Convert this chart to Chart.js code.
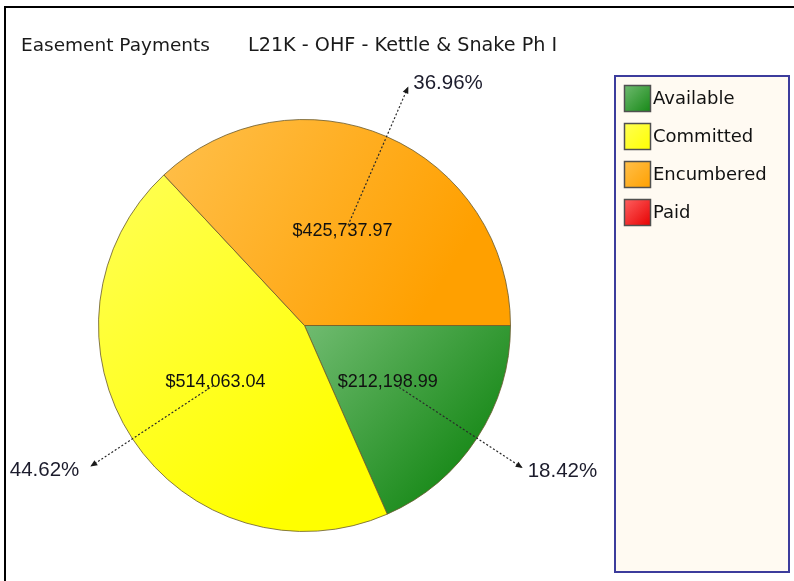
<!DOCTYPE html>
<html>
<head>
<meta charset="utf-8">
<script src="https://cdn.jsdelivr.net/npm/chart.js@4.4.1/dist/chart.umd.min.js"></script>
<style>
  html, body { margin:0; padding:0; background:#fff; }
  #wrap { position:relative; width:794px; height:581px; }
</style>
</head>
<body>
<div id="wrap"><canvas id="pie" width="794" height="581"></canvas></div>
<script>
const LABELS  = ['Available','Committed','Encumbered','Paid'];
const AMOUNTS = [212198.99, 514063.04, 425737.97, 0];
const LIGHT   = ['#70bb70','#ffff55','#ffc04c','#ff6060'];
const DARK    = ['#168816','#ffff00','#ffa000','#e60000'];
const TITLE_LEFT  = 'Easement Payments';
const TITLE_RIGHT = 'L21K - OHF - Kettle & Snake Ph I';

const TOTAL = AMOUNTS.reduce((a,b)=>a+b,0);
const money = v => '$' + v.toLocaleString('en-US',{minimumFractionDigits:2,maximumFractionDigits:2});
const pct = v => (v / TOTAL * 100).toFixed(2) + '%';

// gradient per slice, spread over the slice's bounding box
function sliceFill(ctx) {
  const i = ctx.dataIndex;
  const area = ctx.chart.chartArea;
  if (!area) return DARK[i];
  const cx = (area.left+area.right)/2, cy = (area.top+area.bottom)/2;
  const r = Math.min(area.right-area.left, area.bottom-area.top)/2;
  let a0 = 0;
  for (let k=0;k<i;k++) a0 += AMOUNTS[k]/TOTAL*Math.PI*2;
  const a1 = a0 + AMOUNTS[i]/TOTAL*Math.PI*2;
  const pts = [[cx,cy],[cx+r*Math.cos(a0),cy+r*Math.sin(a0)],[cx+r*Math.cos(a1),cy+r*Math.sin(a1)]];
  for (let q=0;q<=4;q++) { const a=q*Math.PI/2; if (a>a0 && a<a1) pts.push([cx+r*Math.cos(a),cy+r*Math.sin(a)]); }
  const xs = pts.map(p=>p[0]), ys = pts.map(p=>p[1]);
  const g = ctx.chart.ctx.createLinearGradient(Math.min(...xs),Math.min(...ys),Math.max(...xs),Math.max(...ys));
  g.addColorStop(0, LIGHT[i]); g.addColorStop(0.8, DARK[i]); g.addColorStop(1, DARK[i]);
  return g;
}

const pieNotes = {
  id: 'pieNotes',
  beforeDraw(chart) {
    const c = chart.ctx;
    c.save();
    // outer frame
    c.strokeStyle = '#000'; c.lineWidth = 2;
    c.strokeRect(5, 7, 900, 900);
    // title
    c.fillStyle = '#1a1a1a';
    c.textBaseline = 'alphabetic'; c.textAlign = 'left';
    c.font = '18.5px "DejaVu Sans"';
    c.fillText(TITLE_LEFT, 21, 51);
    c.font = '19.2px "DejaVu Sans"';
    c.fillText(TITLE_RIGHT, 248, 51);
    // legend
    c.fillStyle = '#fffaf2';
    c.fillRect(615, 76, 174, 496);
    c.strokeStyle = '#3c3c9c'; c.lineWidth = 2;
    c.strokeRect(615, 76, 174, 496);
    chart.data.labels.forEach((lb, i) => {
      const y = 85 + i*38;
      const g = c.createLinearGradient(624, y, 651, y+27);
      g.addColorStop(0, LIGHT[i]); g.addColorStop(1, DARK[i]);
      c.fillStyle = g;
      c.fillRect(624, y, 27, 27);
      c.strokeStyle = '#505050'; c.lineWidth = 1.5;
      c.strokeRect(624.5, y+0.5, 26, 26);
      c.fillStyle = '#111';
      c.font = '18px "DejaVu Sans"';
      c.textBaseline = 'middle';
      c.fillText(lb, 653, y+14);
    });
    c.restore();
  },
  afterDatasetsDraw(chart) {
    const c = chart.ctx;
    const meta = chart.getDatasetMeta(0);
    c.save();
    meta.data.forEach((arc, i) => {
      const v = chart.data.datasets[0].data[i];
      if (!v) return;
      const {x, y, startAngle, endAngle, outerRadius} = arc.getProps(['x','y','startAngle','endAngle','outerRadius'], true);
      const mid = (startAngle + endAngle) / 2;
      const dx = Math.cos(mid), dy = Math.sin(mid);
      const R = outerRadius;
      const k = dx >= 0 ? 1.265 : 1.245;
      // leader line
      const x0 = x + dx*R*0.53, y0 = y + dy*R*0.53;
      const x1 = x + dx*R*k, y1 = y + dy*R*k;
      c.strokeStyle = '#2a2a2a'; c.lineWidth = 1.2; c.setLineDash([2,2]);
      c.beginPath(); c.moveTo(x0,y0); c.lineTo(x1,y1); c.stroke();
      c.setLineDash([]);
      // arrow head
      const ah = 7, aw = 3;
      c.fillStyle = '#1a1a1a';
      c.beginPath();
      c.moveTo(x1, y1);
      c.lineTo(x1 - dx*ah - dy*aw, y1 - dy*ah + dx*aw);
      c.lineTo(x1 - dx*ah + dy*aw, y1 - dy*ah - dx*aw);
      c.closePath(); c.fill();
      // value label
      c.fillStyle = '#111';
      c.font = '18px "Liberation Sans"';
      c.textAlign = 'center'; c.textBaseline = 'middle';
      c.fillText(money(v), x + dx*R*0.5 - 3, y + dy*R*0.5);
      // percent label
      c.font = '20.5px "Liberation Sans"';
      c.fillStyle = '#1c1c2c';
      c.textAlign = dx >= 0 ? 'left' : 'right';
      c.fillText(pct(v), x1 + (dx >= 0 ? 5 : -11), y1 + dy*4.5 + 1);
    });
    c.restore();
  }
};

new Chart(document.getElementById('pie'), {
  type: 'pie',
  data: {
    labels: LABELS,
    datasets: [{
      data: AMOUNTS,
      backgroundColor: sliceFill,
      borderColor: 'rgba(105,90,45,0.8)',
      borderWidth: 1
    }]
  },
  options: {
    responsive: false,
    animation: false,
    rotation: 90,
    layout: { padding: { left: 98, right: 283, top: 119, bottom: 49 } },
    plugins: { legend: { display: false }, tooltip: { enabled: false }, title: { display: false } }
  },
  plugins: [pieNotes]
});
</script>
</body>
</html>
